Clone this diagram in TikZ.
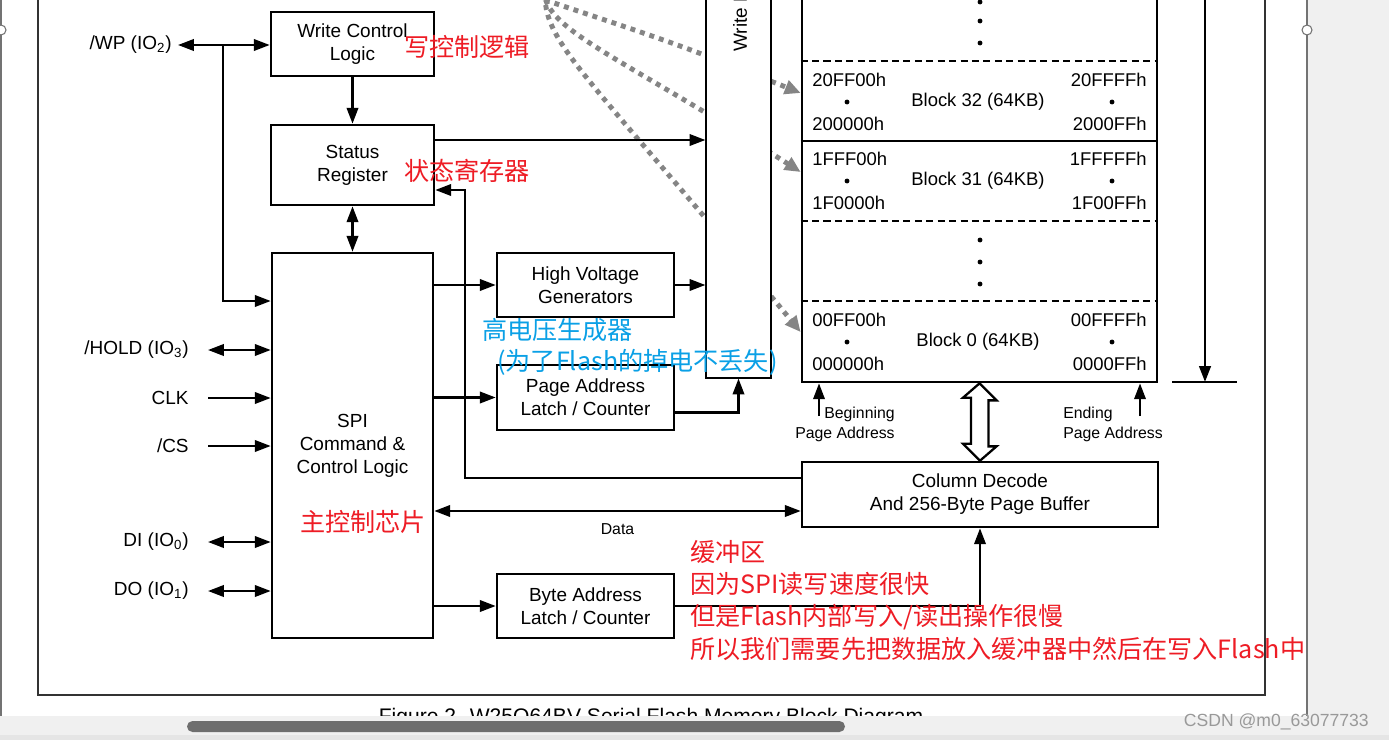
\documentclass[tikz,border=0pt]{standalone}
\usepackage{fontspec}
\setmainfont{Liberation Sans}
\newfontfamily\cjk{Noto Sans CJK SC}
\usetikzlibrary{arrows.meta,positioning,calc}
\definecolor{notered}{HTML}{EE1C25}
\definecolor{noteblue}{HTML}{0AA0E6}
\definecolor{dotgray}{HTML}{858585}
\definecolor{panelgray}{HTML}{F0F0F0}
\definecolor{thumbgray}{HTML}{6E6E6E}
\tikzset{
    blockbox/.style={
        rectangle,
        draw=black,
        line width=1.5pt,
        fill=white,
        align=center,
        inner sep=1pt,
        font=\fontsize{10.8}{13}\selectfont,
    },
    pin-label/.style={
        anchor=east,
        inner xsep=0.38cm,
        inner ysep=0pt,
        font=\fontsize{10.8}{13}\selectfont,
    },
    sig/.style={
        draw,
        line width=1.3pt,
        -{Triangle[length=9pt,width=6.5pt]},
    },
    bisig/.style={
        sig,
        {Triangle[length=9pt,width=6.5pt]}-{Triangle[length=9pt,width=6.5pt]},
    },
    ptr/.style={
        draw=dotgray,
        line width=2.8pt,
        dash pattern=on 2.8pt off 2.9pt,
        -{Triangle[length=9pt,width=8pt]},
    },
    addr/.style={
        inner sep=0pt,
        font=\fontsize{10.5}{12}\selectfont,
    },
    mem-dot/.style={
        circle,
        fill=black,
        inner sep=0pt,
        minimum size=2.8pt,
    },
    note-red/.style={
        anchor=west,
        inner sep=0pt,
        text=notered,
        font=\cjk\fontsize{14.3}{18}\selectfont,
    },
    note-blue/.style={
        note-red,
        text=noteblue,
    },
    small-label/.style={
        font=\fontsize{9}{11.4}\selectfont,
        inner sep=0pt,
    },
}

\begin{document}
\begin{tikzpicture}[x=0.02cm,y=-0.02cm]
\useasboundingbox (0,0) rectangle (1389,740);
\clip (0,0) rectangle (1389,740);
% page and viewer
\fill[white] (0,0) rectangle (1389,740);
\fill[panelgray] (1307,0) rectangle (1389,716);
\draw[black!55, line width=0.6pt] (1307,0) -- (1307,716);
\draw[black!55, line width=0.6pt] (1,0) -- (1,716);
\draw[black!55, fill=white, line width=0.6pt] (1307,30) circle (5);
\draw[black!55, fill=white, line width=0.6pt] (1,30) circle (5);
\draw[black!80, line width=1.2pt] (38,-5) -- (38,695) -- (1265,695) -- (1265,-5);
\node[anchor=base, font=\fontsize{12}{14}\selectfont] (caption) at (651,723) {Figure 2. W25Q64BV Serial Flash Memory Block Diagram};

% memory array
\node[draw, line width=1.6pt, fill=white, minimum width=7.1cm, minimum height=8.04cm, inner sep=0pt] (mem) at (979.5,181) {};
\foreach \y in {61,221,301}
    \draw[line width=0.8pt, dash pattern=on 4pt off 2.5pt] (mem.west |- 0,\y) -- (mem.east |- 0,\y);
\draw[line width=1.2pt] (mem.west |- 0,141) -- (mem.east |- 0,141);
\foreach \y in {2,21,43,240,262,284}
    \node[mem-dot] (md\y) at (980,\y) {};
\foreach \y/\n/\tl/\tr/\bl/\br in {102/32/20FF00h/20FFFFh/200000h/2000FFh, 181/31/1FFF00h/1FFFFFh/1F0000h/1F00FFh, 342/0/00FF00h/00FFFFh/000000h/0000FFh}{
    \node[addr] (blk\n) at (978,\y) {Block \n\ (64KB)};
    \node[addr, anchor=west] (blk\n-tl) at (812,\y-22) {\tl};
    \node[addr, anchor=west] (blk\n-bl) at (812,\y+22) {\bl};
    \node[addr, anchor=east] (blk\n-tr) at (1147,\y-22) {\tr};
    \node[addr, anchor=east] (blk\n-br) at (1147,\y+22) {\br};
    \node[mem-dot] (blk\n-dl) at (847,\y) {};
    \node[mem-dot] (blk\n-dr) at (1112,\y) {};
}

% size marker
\coordinate (szTop) at (1205,-10);
\coordinate (barL) at (1172,382);
\coordinate (barR) at (1237,382);
\draw[line width=1.3pt] (barL) -- (barR);
\draw[sig, line width=1.5pt] (szTop) -- (szTop |- barL);

% dotted pointers
\coordinate (src1) at (545,0);
\coordinate (src2) at (544,-10);
\coordinate (src3) at (545,-5);
\draw[ptr] (src1) .. controls (680,45) .. (mem.west |- 0,93);
\draw[ptr] (src2) .. controls (544,30) and (620,56) .. (mem.west |- 0,172);
\draw[ptr] (src3) .. controls (545,45) and (590,77) .. (mem.west |- 0,332);

% write protect column
\node[draw, line width=0.7pt, fill=white, minimum width=1.3cm, minimum height=8cm, inner sep=0pt] (wpcol) at (738.5,178) {};
\node[rotate=90, anchor=west, inner sep=0pt, font=\fontsize{10.8}{13}\selectfont] (wptext) at (740,52) {Write Protect};

% blocks
\node[blockbox, minimum width=3.26cm, minimum height=1.28cm] (wcl) at (352.5,44) {Write Control\\Logic};
\node[blockbox, minimum width=3.26cm, minimum height=1.6cm] (sreg) at (352.5,165) {Status\\Register};
\node[blockbox, minimum width=3.22cm, minimum height=7.7cm] (spi) at (352.5,445.5) {SPI\\Command \&\\Control Logic};
\node[blockbox, minimum width=3.54cm, minimum height=1.28cm] (hvg) at (585.5,285) {High Voltage\\Generators};
\node[blockbox, minimum width=3.54cm, minimum height=1.3cm] (pal) at (585.5,397.5) {Page Address\\Latch / Counter};
\node[blockbox, minimum width=3.54cm, minimum height=1.28cm] (bal) at (585.5,606) {Byte Address\\Latch / Counter};
\node[blockbox, minimum width=7.12cm, minimum height=1.3cm] (cdec) at (980,494.5) {Column Decode\\And 256-Byte Page Buffer};

% pins
\node[pin-label, inner xsep=0.12cm] (wp) at (178,45) {/WP (IO\textsubscript{2})};
\draw[bisig] (wp.east) -- (wp.east -| wcl.west);
\coordinate (wpj) at (223,45);
\draw[sig] (wpj) |- (spi.west |- 0,301);
\foreach \y/\name/\txt/\tip in {350/hold/{/HOLD (IO\textsubscript{3})}/bisig, 398/clk/CLK/sig, 446/cs/{/CS}/sig, 542/di/{DI (IO\textsubscript{0})}/bisig, 591/do/{DO (IO\textsubscript{1})}/bisig}{
    \node[pin-label] (\name) at (208,\y) {\txt};
    \draw[\tip] (\name.east) -- (\name.east -| spi.west);
}

% internal connections
\draw[sig] (wcl) -- (sreg);
\draw[bisig] (sreg) -- (spi);
\draw[sig] (spi.east |- hvg.west) -- (hvg.west);
\draw[sig] (spi.east |- pal.west) -- (pal.west);
\draw[sig] (spi.east |- bal.west) -- (bal.west);
\draw[sig] (hvg.east) -- (hvg.east -| wpcol.west);
\draw[sig] ([yshift=-0.3cm]pal.east) -| (wpcol.south);
\coordinate (srOut) at ([yshift=0.5cm]sreg.east);
\draw[sig] (srOut) -- (srOut -| wpcol.west);
\coordinate (fbk) at (465,190);
\draw[sig] ([yshift=0.33cm]cdec.west) -| (fbk) -- (fbk -| sreg.east);
\coordinate (dataR) at ([yshift=-0.33cm]cdec.west);
\draw[bisig] (dataR -| spi.east) -- (dataR) node[small-label, midway, below=0.22cm] (data) {Data};
\draw[sig] (bal.east) -| (cdec.south);
\draw[line width=1.3pt, fill=white] (mem.south) -- ++(17,17) -- ++(-8,0) -- ++(0,46) -- ++(8,0) -- (cdec.north) -- ++(-17,-17) -- ++(8,0) -- ++(0,-46) -- ++(-8,0) -- cycle;

% page address markers
\coordinate (bpa) at (819,416);
\draw[sig] (bpa) -- (bpa |- mem.south);
\node[small-label, align=right, anchor=north east] (bpaText) at (895,407) {Beginning\\Page Address};
\coordinate (epa) at (1140,416);
\draw[sig] (epa) -- (epa |- mem.south);
\node[small-label, align=left, anchor=north west] (epaText) at (1063,407) {Ending\\Page Address};

% notes
\node[note-red] (nWcl) at (404,47) {写控制逻辑};
\node[note-red] (nSreg) at (404,171) {状态寄存器};
\node[note-red] (nSpi) at (300,522) {主控制芯片};
\node[note-blue] (nHvg) at (482,330) {高电压生成器};
\node[note-blue] (nHvg2) at (497,362) {(为了Flash的掉电不丢失)};
\foreach \y/\txt in {552/缓冲区, 584/因为SPI读写速度很快, 617/{但是Flash内部写入/读出操作很慢}, 649/所以我们需要先把数据放入缓冲器中然后在写入Flash中}
    \node[note-red] (buf\y) at (690,\y) {\txt};

% viewer scroll bar
\fill[panelgray] (0,716) rectangle (1389,740);
\fill[black!10] (0,735) rectangle (1389,740);
\fill[thumbgray, rounded corners=0.11cm] (187,721) rectangle (845,732);
\node[anchor=east, text=black!40, font=\fontsize{10}{12}\selectfont] (mark) at (1375,722) {CSDN @m0\_63077733};
\end{tikzpicture}
\end{document}
